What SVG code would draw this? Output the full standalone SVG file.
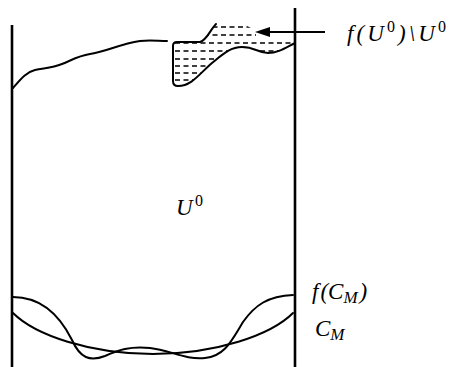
<svg xmlns="http://www.w3.org/2000/svg" width="450" height="367" viewBox="0 0 450 367">
<style>
.wall{stroke:#000;stroke-width:2.6;fill:none}
.crv{stroke:#000;stroke-width:2;fill:none;stroke-linejoin:round;stroke-linecap:round}
.hatch{stroke:#000;stroke-width:1.6;stroke-dasharray:5 3.5}
text{font-family:'Liberation Serif','DejaVu Serif',serif;font-style:italic;font-size:23px;fill:#000}
.up{font-style:normal}
</style>
<defs>
<clipPath id="reg">
<path d="M173,45 Q173,42 177,42 L200,42 C207,40 210,30 216,24 L244,24 L256,31 L256,38 L295,38 L295,44 C285,48 278,53 268,53 C258,53 255,47 242,47 C230,47 222,55 212,63 C200,73 192,86 178,86 Q173,86 173,81 Z"/>
</clipPath>
</defs>
<g id="walls">
<line class="wall" x1="12" y1="25" x2="12" y2="367"/>
<line class="wall" x1="295" y1="8" x2="295" y2="367"/>
</g>
<g id="boundary">
<path class="crv" d="M13,88 C20,80 26,72 35,70 C44,68 52,68 62,64 C72,60 78,56 90,54 C105,52 120,44 140,41 C150,40 158,41 167,41"/>
</g>
<g id="region">
<g clip-path="url(#reg)">
<line class="hatch" x1="170" y1="27" x2="300" y2="27"/>
<line class="hatch" x1="170" y1="35" x2="300" y2="35"/>
<line class="hatch" x1="175" y1="43" x2="300" y2="43"/>
<line class="hatch" x1="175" y1="51" x2="300" y2="51"/>
<line class="hatch" x1="175" y1="59" x2="300" y2="59"/>
<line class="hatch" x1="175" y1="66" x2="300" y2="66"/>
<line class="hatch" x1="175" y1="73" x2="300" y2="73"/>
<line class="hatch" x1="175" y1="80" x2="300" y2="80"/>
</g>
<path class="crv" d="M216,24 C210,30 207,40 200,42 L177,42 Q173,42 173,46 L173,81 Q173,86 178,86 C192,86 200,73 212,63 C222,55 230,47 242,47 C255,47 258,53 268,53 C278,53 285,48 295,43"/>
</g>
<g id="connectors">
<line x1="325" y1="32" x2="266" y2="32" stroke="#000" stroke-width="1.8"/>
<polygon points="255,32 270,27 270,37" fill="#000"/>
</g>
<g id="curves">
<path class="crv" d="M13,313 C35,335 90,354 153,354 C216,354 271,335 293,313"/>
<path class="crv" d="M13,297 C45,297 62,320 72,340 C80,358 90,362 105,356 C118,350 130,346 150,348 C170,350 185,360 205,358 C225,356 232,340 243,322 C255,305 268,296 293,295"/>
</g>
<g id="labels">
<text x="347" y="41" textLength="99" lengthAdjust="spacing">f(U<tspan class="up" font-size="16" dy="-9">0</tspan><tspan dy="9">)\U</tspan><tspan class="up" font-size="16" dy="-9">0</tspan></text>
<text x="176" y="215" textLength="27" lengthAdjust="spacing">U<tspan class="up" font-size="16" dy="-9">0</tspan></text>
<text x="312" y="299" font-size="24">f<tspan dx="2">(C</tspan><tspan font-size="17" dy="4">M</tspan><tspan dx="2" dy="-4">)</tspan></text>
<text x="315" y="336" font-size="24">C<tspan font-size="17" dy="4">M</tspan></text>
</g>
</svg>
